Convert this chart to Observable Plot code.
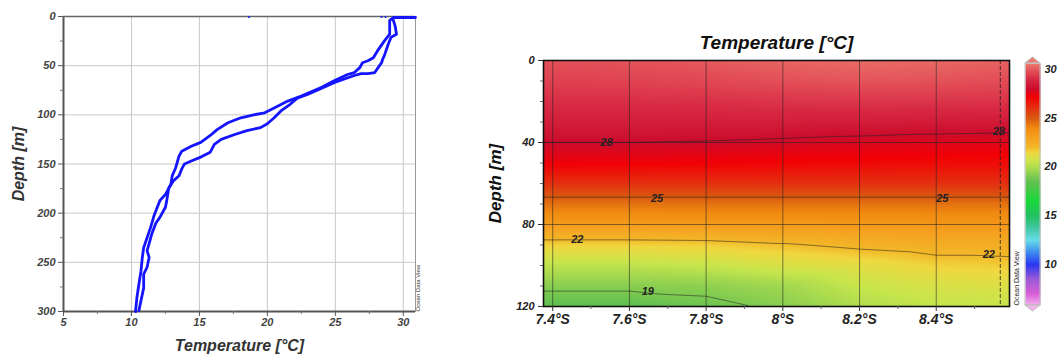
<!DOCTYPE html>
<html><head><meta charset="utf-8">
<script src="https://cdn.jsdelivr.net/npm/d3@7"></script>
<script src="https://cdn.jsdelivr.net/npm/@observablehq/plot@0.6"></script>
<style>
body{margin:0;background:#fff;width:1059px;height:358px;overflow:hidden;position:relative;font-family:"Liberation Sans",Arial,sans-serif}
.p{position:absolute;top:0}
</style></head><body>
<div id="left" class="p" style="left:0"></div>
<div id="right" class="p" style="left:440px"></div>
<div id="bar" class="p" style="left:1012px"></div>
<script>
// ---------- Profile data (two CTD casts) ----------
const profATemp = [30.9, 29.3, 29.0, 29.0, 28.6, 28.1, 27.8, 27.4, 27.0, 26.8, 26.4, 25.9, 24.95, 24.0, 22.5, 21.5, 20.5, 19.8, 19.0, 18.05, 17.1, 16.3, 15.8, 15.1, 14.4, 13.7, 13.5, 13.25, 13.0, 12.9, 12.5, 12.1, 11.9, 11.65, 11.4, 11.15, 10.9, 10.8, 10.7, 10.55, 10.4, 10.3];
const profADepth = [1, 1, 4, 18, 25, 35, 42, 45, 47, 52, 57, 59, 65, 72, 81, 86, 93, 98, 100, 103, 108, 115, 121, 128, 132, 137, 142, 154, 162, 171, 181, 187, 194, 203, 215, 225, 235, 245, 259, 272, 286, 300];
const profBTemp = [29.25, 29.4, 29.5, 29.1, 28.9, 28.6, 28.5, 28.4, 28.15, 27.9, 27.4, 26.9, 26.4, 24.95, 24.0, 23.0, 22.2, 21.7, 21.0, 20.5, 20.0, 19.5, 18.5, 17.6, 16.6, 16.1, 15.8, 15.1, 14.4, 13.9, 13.7, 13.5, 13.1, 12.75, 12.6, 12.5, 12.1, 11.8, 11.5, 11.3, 11.15, 11.3, 11.15, 10.9, 10.9, 10.7, 10.55];
const profBDepth = [3, 9.5, 18, 21, 28, 40, 43, 47, 52, 57, 58, 58, 60, 67, 73, 79, 83, 89, 96, 103, 109, 113, 116, 120, 125, 130, 138, 143, 147, 150, 155, 162, 167, 174, 187, 194, 204, 210, 221, 231, 238, 245, 255, 262, 276, 289, 299];
const strayTemp = [18.65, 28.4, 28.7];
const strayDepth = [0.6, 0.6, 0.6];
const profTempTicks = [5, 10, 15, 20, 25, 30];
const profTempMinor = [7.5, 12.5, 17.5, 22.5, 27.5];
const profDepthTicks = [0, 50, 100, 150, 200, 250, 300];
const profDepthMinor = [25, 75, 125, 175, 225, 275];

// ---------- Section data ----------
const lats = [7.376, 7.4, 7.6, 7.8, 8.0, 8.2, 8.4, 8.591];
const depths = [0, 10, 20, 30, 40, 50, 60, 70, 80, 90, 100, 110, 120];
const sectionTemp = [
  [29.9, 29.9, 29.95, 30.05, 30.25, 30.35, 30.3, 30.2],
  [29.55, 29.55, 29.6, 29.7, 29.85, 29.95, 29.9, 29.8],
  [29.1, 29.1, 29.1, 29.15, 29.25, 29.3, 29.25, 29.2],
  [28.6, 28.6, 28.6, 28.6, 28.6, 28.55, 28.5, 28.45],
  [28.0, 28.0, 28.0, 27.95, 27.85, 27.75, 27.65, 27.6],
  [27.3, 27.3, 27.25, 27.2, 27.1, 27.0, 26.95, 26.9],
  [26.0, 26.0, 26.0, 26.0, 26.0, 26.0, 26.0, 26.0],
  [24.5, 24.5, 24.5, 24.5, 24.5, 24.5, 24.5, 24.5],
  [23.2, 23.2, 23.2, 23.25, 23.3, 23.35, 23.4, 23.4],
  [21.6, 21.6, 21.6, 21.65, 21.9, 22.2, 22.4, 22.4],
  [20.3, 20.3, 20.3, 20.5, 20.9, 21.2, 21.6, 21.7],
  [19.2, 19.2, 19.2, 19.3, 19.7, 20.5, 20.9, 21.0],
  [18.4, 18.4, 18.4, 18.7, 19.2, 20.0, 20.4, 20.5]
];
const contourLevels = [19, 22, 25, 28];
const labelLat = [7.54, 8.563, 7.672, 8.416, 7.464, 8.537, 7.648];
const labelDepth = [40.1, 34.6, 67.2, 67.2, 87.5, 94.8, 112.7];
const labelText = ["28", "28", "25", "25", "22", "22", "19"];
const latTicks = [7.4, 7.6, 7.8, 8.0, 8.2, 8.4];
const latMinor = [7.5, 7.7, 7.9, 8.1, 8.3, 8.5];
const secDepthTicks = [0, 40, 80, 120];
const secDepthMinor = [10, 20, 30, 50, 60, 70, 90, 100, 110];
const stationLat = [8.567];
const barTicks = [10, 15, 20, 25, 30];

// ODV-like palette
const paletteStops = [5.8, 7, 8.5, 10, 11.2, 12.5, 13.8, 15, 16.5, 18.5, 19.5, 20.5, 21.5, 22, 23, 24, 25, 26, 27.2, 28, 29, 29.8, 30.6];
const paletteColors = ["#f4b4f0", "#d85ed8", "#9a5ad6", "#2a36f0", "#3c88f0", "#66dce8", "#40c6a0", "#22c060", "#1ad83a", "#62c050", "#98d450", "#c8e64c", "#f0d840", "#f3b828", "#f5a020", "#f08a10", "#d95a10", "#e43010", "#f20005", "#cc0c2c", "#d82a44", "#e24c56", "#ec7a6e"];
const colorOpts = {type: "linear", domain: paletteStops, range: paletteColors, interpolate: "rgb", clamp: true};

const baseStyle = {fontFamily: "'Liberation Sans', Arial, sans-serif", fontWeight: "bold", fontStyle: "italic", background: "transparent", overflow: "visible"};

// ---------- Left: profile ----------
const left = Plot.plot({
  width: 440, height: 358,
  marginTop: 16, marginLeft: 63, marginRight: 25, marginBottom: 47,
  style: {...baseStyle, fontSize: "11px"},
  x: {domain: [5, 30.9]},
  y: {domain: [0, 300], reverse: true},
  marks: [
    Plot.gridX(profTempTicks.slice(1), {stroke: "#c8c8c8", strokeOpacity: 1, strokeWidth: 1}),
    Plot.gridY(profDepthTicks.slice(1, -1), {stroke: "#c8c8c8", strokeOpacity: 1, strokeWidth: 1}),
    Plot.frame({stroke: "#999", strokeWidth: 1}),
    Plot.ruleX([5], {stroke: "#555", strokeWidth: 2}),
    Plot.ruleY([300], {stroke: "#555", strokeWidth: 2}),
    Plot.ruleY([0], {stroke: "#666", strokeWidth: 1.5}),
    Plot.axisX(profTempTicks, {anchor: "bottom", tickSize: 5, tickPadding: 2, label: null, fill: "#444", stroke: "#555"}),
    Plot.axisX(profTempMinor, {anchor: "bottom", tickSize: 3, tickFormat: () => "", label: null, stroke: "#777"}),
    Plot.axisY(profDepthTicks, {anchor: "left", tickSize: 5, tickPadding: 3, label: null, fill: "#444", stroke: "#555"}),
    Plot.axisY(profDepthMinor, {anchor: "left", tickSize: 3, tickFormat: () => "", label: null, stroke: "#777"}),
    Plot.line(profADepth, {x: profATemp, y: profADepth, stroke: "#1414ff", strokeWidth: 2.8}),
    Plot.line(profBDepth, {x: profBTemp, y: profBDepth, stroke: "#1414ff", strokeWidth: 2.8}),
    Plot.dot(strayDepth, {x: strayTemp, y: strayDepth, r: 1, fill: "#1414ff"}),
    Plot.text(["Temperature [°C]"], {frameAnchor: "bottom", dy: 34, lineAnchor: "middle", fontSize: 16, fill: "#333"}),
    Plot.text(["Depth [m]"], {frameAnchor: "left", dx: -45, rotate: -90, textAnchor: "middle", lineAnchor: "middle", fontSize: 16, fill: "#333"}),
    Plot.text(["Ocean Data View"], {frameAnchor: "bottom-right", dx: 3, rotate: -90, textAnchor: "start", lineAnchor: "middle", fontSize: 6, fontWeight: "normal", fontStyle: "normal", fill: "#333"})
  ]
});
document.getElementById("left").append(left);

// ---------- Right: section ----------
const points = depths.flatMap((d, i) => lats.map((l, j) => ({lat: l, depth: d, t: sectionTemp[i][j]})));
const labels = labelText.map((s, i) => ({lat: labelLat[i], depth: labelDepth[i], s}));
const fmtLat = d => `${+d.toFixed(1)}°S`;

const right = Plot.plot({
  width: 572, height: 358,
  marginTop: 60, marginLeft: 103, marginRight: 3, marginBottom: 52,
  style: {...baseStyle, fontSize: "11px"},
  x: {domain: [7.376, 8.591]},
  y: {domain: [0, 120], reverse: true},
  color: colorOpts,
  marks: [
    Plot.raster(points, {x: "lat", y: "depth", fill: "t", interpolate: "barycentric", x1: 7.376, x2: 8.591, y1: 0, y2: 120, pixelSize: 1}),
    Plot.contour(points, {x: "lat", y: "depth", value: "t", interpolate: "barycentric", thresholds: contourLevels, x1: 7.376, x2: 8.591, y1: 0, y2: 120, fill: "none", stroke: "#222", strokeWidth: 0.7, strokeOpacity: 0.8}),
    Plot.gridX(latTicks, {stroke: "#222", strokeOpacity: 0.7, strokeWidth: 0.8}),
    Plot.gridY([40, 80], {stroke: "#222", strokeOpacity: 0.7, strokeWidth: 0.8}),
    Plot.ruleX(stationLat, {stroke: "#222", strokeWidth: 0.8, strokeDasharray: "4,2"}),
    Plot.text(labels, {x: "lat", y: "depth", text: "s", fontSize: 11, fill: "#222"}),
    Plot.frame({stroke: "#111", strokeWidth: 1.6}),
    Plot.axisX(latTicks, {anchor: "bottom", tickSize: 5, tickPadding: 3, tickFormat: fmtLat, label: null, fontSize: 14, fill: "#222", stroke: "#333"}),
    Plot.axisX(latMinor, {anchor: "bottom", tickSize: 3, tickFormat: () => "", label: null, stroke: "#666"}),
    Plot.axisY(secDepthTicks, {anchor: "left", tickSize: 5, tickPadding: 4, label: null, fill: "#222", stroke: "#333"}),
    Plot.axisY(secDepthMinor, {anchor: "left", tickSize: 3, tickFormat: () => "", label: null, stroke: "#666"}),
    Plot.text(["Temperature [°C]"], {frameAnchor: "top", dy: -18, lineAnchor: "middle", fontSize: 19, fill: "#111"}),
    Plot.text(["Depth [m]"], {frameAnchor: "left", dx: -48, rotate: -90, textAnchor: "middle", lineAnchor: "middle", fontSize: 17, fill: "#111"})
  ]
});
document.getElementById("right").append(right);

// ---------- Colour bar ----------
function caps(index, scales, values, dim) {
  const l = dim.marginLeft, r = dim.width - dim.marginRight;
  const t = dim.marginTop, b = dim.height - dim.marginBottom, m = (l + r) / 2;
  const g = d3.create("svg:g");
  g.append("path").attr("d", `M${l},${t}L${m},${t - 6}L${r},${t}Z`).attr("fill", scales.color(paletteStops[paletteStops.length - 1])).attr("stroke", "#bbb");
  g.append("path").attr("d", `M${l},${b}L${m},${b + 6}L${r},${b}Z`).attr("fill", scales.color(paletteStops[0])).attr("stroke", "#bbb");
  g.append("rect").attr("x", l).attr("y", t).attr("width", r - l).attr("height", b - t).attr("fill", "none").attr("stroke", "#bbb");
  return g.node();
}
const bar = Plot.plot({
  width: 47, height: 358,
  marginTop: 63, marginBottom: 53, marginLeft: 13, marginRight: 19,
  style: {...baseStyle, fontSize: "11px"},
  x: {domain: [0, 1], axis: null},
  y: {domain: [5.8, 30.6]},
  color: colorOpts,
  marks: [
    Plot.raster({x1: 0, x2: 1, y1: 5.8, y2: 30.6, fill: (x, y) => y, pixelSize: 1}),
    caps,
    Plot.axisY(barTicks, {anchor: "right", tickSize: 0, tickPadding: 4, label: null, fill: "#222"}),
    Plot.text(["Ocean Data View"], {frameAnchor: "bottom-left", dx: -9, rotate: -90, textAnchor: "start", lineAnchor: "middle", fontSize: 7, fontWeight: "normal", fontStyle: "normal", fill: "#222"})
  ]
});
document.getElementById("bar").append(bar);
</script>
</body></html>
